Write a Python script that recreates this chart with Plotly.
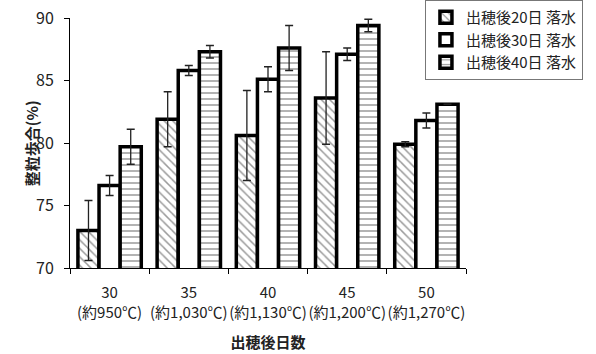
import plotly.graph_objects as go

categories = ["30<br>(約950℃)", "35<br>(約1,030℃)", "40<br>(約1,130℃)", "45<br>(約1,200℃)", "50<br>(約1,270℃)"]
series_names = ["出穂後20日 落水", "出穂後30日 落水", "出穂後40日 落水"]
v20 = [73.0, 81.9, 80.6, 83.6, 79.9]
e20 = [2.4, 2.2, 3.6, 3.7, 0.2]
v30 = [76.6, 85.8, 85.1, 87.1, 81.8]
e30 = [0.8, 0.4, 1.0, 0.5, 0.6]
v40 = [79.7, 87.3, 87.6, 89.4, 83.1]
e40 = [1.4, 0.5, 1.8, 0.5, 0.0]
y_title = "整粒歩合(%)"

patterns = ["\\", "", "-"]
fig = go.Figure()
for name, vals, errs, pat in zip(series_names, [v20, v30, v40], [e20, e30, e40], patterns):
    fig.add_trace(go.Bar(
        x=categories, y=vals, name=name,
        base=0,
        error_y=dict(type="data", array=errs, visible=True, color="#222", thickness=1.3, width=4),
        marker=dict(color="white", line=dict(color="black", width=3.5),
                    pattern=dict(shape=pat, fgcolor="#333", bgcolor="white", size=6, solidity=0.25, fillmode="overlay")),
    ))

font_family = "Noto Sans CJK JP, Open Sans, sans-serif"
fig.update_layout(
    width=596, height=354,
    margin=dict(l=70, r=130, t=18, b=86, autoexpand=False),
    paper_bgcolor="white", plot_bgcolor="white",
    barmode="group", bargap=0.2, bargroupgap=0,
    font=dict(family=font_family, size=14, color="#222"),
    showlegend=True,
    legend=dict(xref="container", yref="container", x=0.713, y=1.0, xanchor="left", yanchor="top",
                bordercolor="#777", borderwidth=1, bgcolor="white",
                font=dict(size=15), tracegroupgap=0, itemwidth=30),
    xaxis=dict(type="category", tickson="boundaries", ticks="outside", ticklen=5, tickangle=0,
               tickcolor="black", showline=True, linecolor="black", linewidth=1,
               ticklabelstandoff=11,
               title=dict(text="<b>出穂後日数</b>", font=dict(size=15), standoff=16),
               tickfont=dict(size=15)),
    yaxis=dict(range=[70, 90], dtick=5, ticks="outside", ticklen=5, tickcolor="black",
               showline=True, linecolor="black", linewidth=1, showgrid=False,
               zeroline=False, ticklabelstandoff=7, ticklabeloverflow="allow",
               tickfont=dict(size=16)),
    annotations=[dict(text="<b>" + y_title + "</b>", textangle=-90, xref="paper", yref="paper",
                      x=-0.098, y=0.5, xanchor="center", yanchor="middle", showarrow=False,
                      font=dict(size=15))],
)
fig.write_html("out.html", config={"displayModeBar": False},
               post_script="document.body.style.margin='0';")
